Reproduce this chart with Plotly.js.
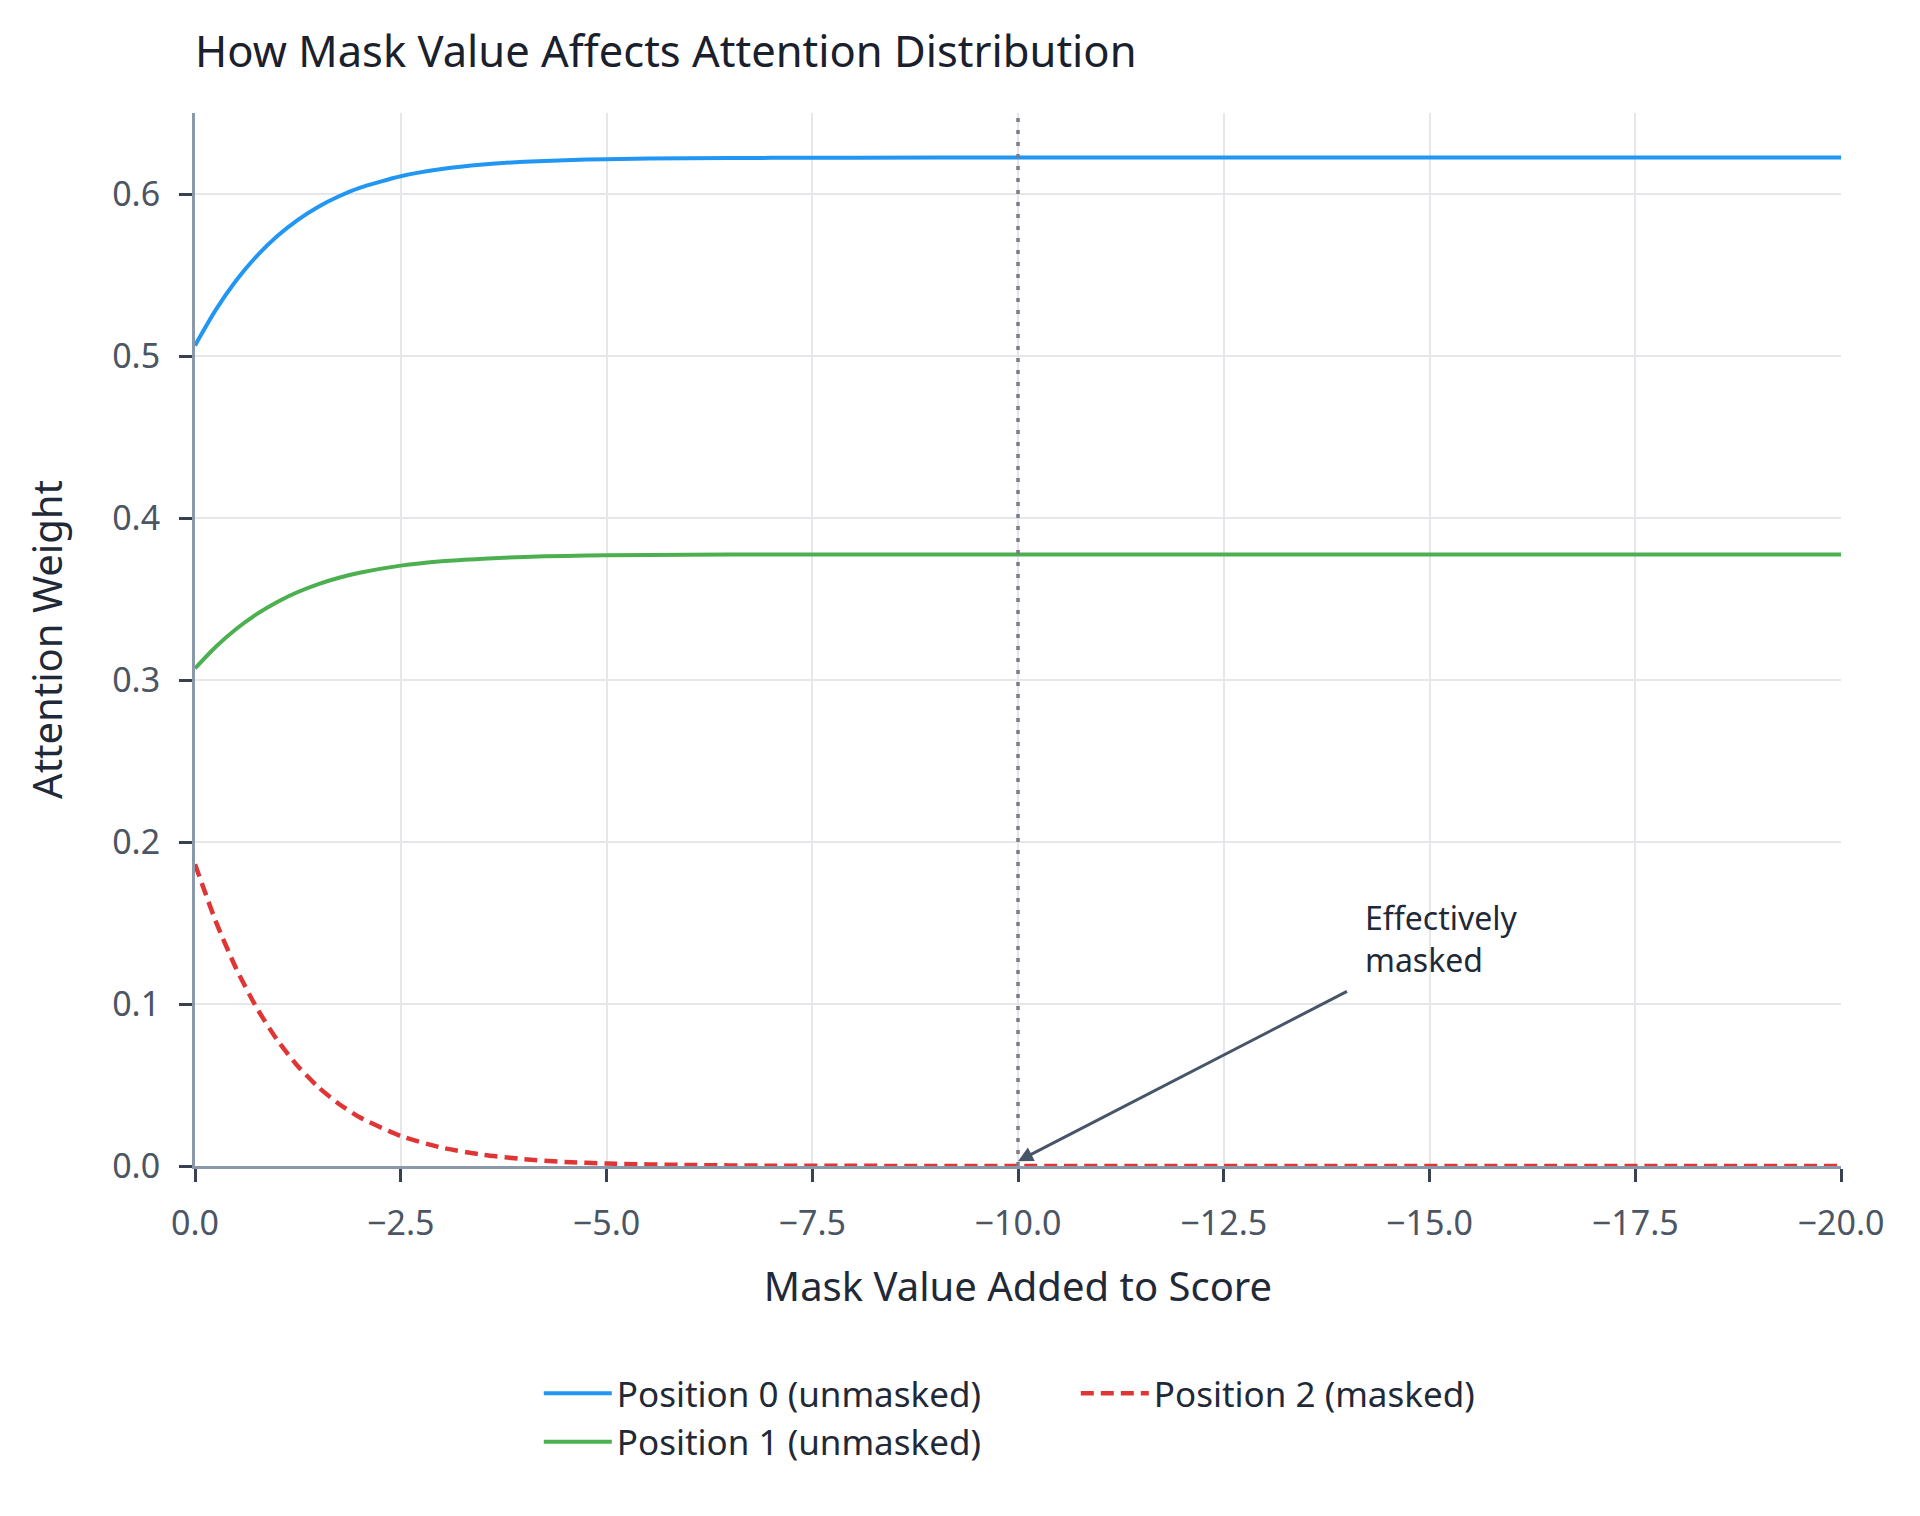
<!DOCTYPE html>
<html>
<head>
<meta charset="utf-8">
<script src="https://cdn.plot.ly/plotly-3.0.1.min.js"></script>
<style>
  html, body { margin: 0; padding: 0; background: #fff; }
  #chart { width: 1920px; height: 1516px; }
</style>
</head>
<body>
<div id="chart"></div>
<script>
// Mask value added to the masked position's score, and the resulting weights.
const maskValues = [0, -0.25, -0.5, -0.75, -1, -1.25, -1.5, -1.75, -2, -2.5, -3, -3.5, -4, -4.5, -5,
  -6, -7, -8, -10, -12, -14, -16, -18, -20];
const pos0Weights = [0.5065, 0.5283, 0.5466, 0.5617, 0.5741, 0.5841, 0.5922, 0.5986, 0.6038, 0.6110,
  0.6154, 0.6182, 0.6199, 0.6209, 0.6215, 0.6221, 0.6223, 0.6224, 0.6225, 0.6225, 0.6225, 0.6225, 0.6225, 0.6225];
const pos1Weights = [0.3072, 0.3204, 0.3315, 0.3407, 0.3482, 0.3543, 0.3592, 0.3631, 0.3662, 0.3706,
  0.3733, 0.3749, 0.3760, 0.3766, 0.3770, 0.3773, 0.3775, 0.3775, 0.3775, 0.3775, 0.3775, 0.3775, 0.3775, 0.3775];
const pos2Weights = [0.1863, 0.1513, 0.1219, 0.0976, 0.0777, 0.0616, 0.0486, 0.0383, 0.0301, 0.0185,
  0.0113, 0.0069, 0.0042, 0.0025, 0.0015, 0.0006, 0.0002, 0.0001, 0, 0, 0, 0, 0, 0];

const xTicks = [0, -2.5, -5, -7.5, -10, -12.5, -15, -17.5, -20];
const yTicks = [0, 0.1, 0.2, 0.3, 0.4, 0.5, 0.6];
const markAt = -10;

const FONT = "Noto Sans, Open Sans, sans-serif";

const traces = [
  {
    x: maskValues, y: pos0Weights, type: "scatter", mode: "lines",
    name: "Position 0 (unmasked)", legendgroup: "unmasked",
    line: { color: "#2196f3", width: 4, shape: "spline", smoothing: 0.6 },
  },
  {
    x: maskValues, y: pos1Weights, type: "scatter", mode: "lines",
    name: "Position 1 (unmasked)", legendgroup: "unmasked",
    line: { color: "#4caf50", width: 4, shape: "spline", smoothing: 0.6 },
  },
  {
    x: maskValues, y: pos2Weights, type: "scatter", mode: "lines",
    name: "Position 2 (masked)", legendgroup: "masked",
    line: { color: "#e03535", width: 4.5, dash: "13px,7px", shape: "spline", smoothing: 0.6 },
  },
];

// shared axis styling
const axisStyle = {
  tickformat: ".1f",
  tickfont: { size: 34, color: "#4b5563" },
  ticklabelstandoff: 12,
  showgrid: true, gridcolor: "#e5e7eb", gridwidth: 2,
  showline: true, linecolor: "#8a98ab", linewidth: 3,
  ticks: "outside", ticklen: 13, tickwidth: 3, tickcolor: "#374151",
  zeroline: false,
};

const layout = {
  width: 1920,
  height: 1516,
  margin: { l: 195, r: 79, t: 113, b: 350 },
  paper_bgcolor: "#fff",
  plot_bgcolor: "#fff",
  font: { family: FONT, size: 28, color: "#1f2937" },
  title: {
    text: "How Mask Value Affects Attention Distribution",
    x: 0, xref: "paper", xanchor: "left",
    y: 0.966, yanchor: "middle",
    font: { family: FONT, size: 43.5, color: "#1a202c" },
  },
  xaxis: Object.assign({}, axisStyle, {
    title: { text: "Mask Value Added to Score", font: { size: 40, color: "#1f2937" }, standoff: 30 },
    range: [0, -20],
    tickvals: xTicks,
  }),
  yaxis: Object.assign({}, axisStyle, {
    title: { text: "Attention Weight", font: { size: 40, color: "#1f2937" }, standoff: 38 },
    range: [0, 0.65],
    tickvals: yTicks,
  }),
  shapes: [{
    type: "line", xref: "x", yref: "paper",
    x0: markAt, x1: markAt, y0: 0, y1: 1,
    line: { color: "#777b8b", width: 3.5, dash: "4px,8px" },
  }],
  annotations: [{
    x: markAt, y: 0.003, xref: "x", yref: "y",
    text: "Effectively<br>masked",
    align: "left", xanchor: "left", yanchor: "bottom",
    showarrow: true, arrowhead: 2, arrowsize: 1, arrowwidth: 3, arrowcolor: "#475569",
    ax: 345, ay: -178, startstandoff: 18,
    font: { family: FONT, size: 32, color: "#1f2937" },
  }],
  showlegend: true,
  legend: {
    orientation: "h", traceorder: "grouped", tracegroupgap: 60,
    itemwidth: 68, indentation: 15, entrywidth: 439,
    x: 0.526, xanchor: "center", y: -0.188, yanchor: "top",
    font: { family: FONT, size: 35, color: "#1f2937" },
    bgcolor: "rgba(0,0,0,0)",
  },
};

Plotly.newPlot("chart", traces, layout, { displayModeBar: false, staticPlot: true });
</script>
</body>
</html>
